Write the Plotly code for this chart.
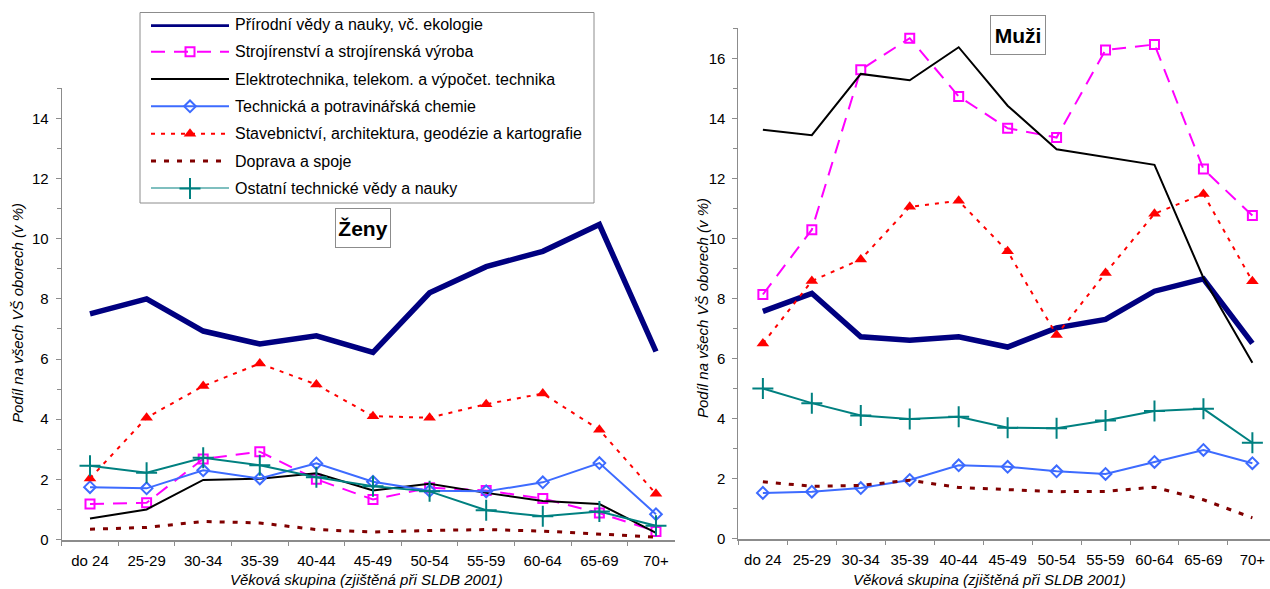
import plotly.graph_objects as go

# Age groups (categories on both x axes)
age_groups = ["do 24", "25-29", "30-34", "35-39", "40-44", "45-49",
              "50-54", "55-59", "60-64", "65-69", "70+"]

# Series names
series_names = [
    "Přírodní vědy a nauky, vč. ekologie",
    "Strojírenství a strojírenská výroba",
    "Elektrotechnika, telekom. a výpočet. technika",
    "Technická a potravinářská chemie",
    "Stavebnictví, architektura, geodézie a kartografie",
    "Doprava a spoje",
    "Ostatní technické vědy a nauky",
]

# Women (Ženy), share in % of all university fields
zeny_prirodni = [7.5, 8.0, 6.93, 6.5, 6.77, 6.22, 8.2, 9.07, 9.58, 10.47, 6.25]
zeny_strojir = [1.18, 1.22, 2.68, 2.92, 2.0, 1.33, 1.72, 1.63, 1.36, 0.88, 0.27]
zeny_elektro = [0.7, 1.0, 1.98, 2.02, 2.2, 1.63, 1.85, 1.55, 1.28, 1.18, 0.22]
zeny_chemie = [1.74, 1.7, 2.3, 2.03, 2.53, 1.92, 1.62, 1.6, 1.9, 2.54, 0.84]
zeny_stavebni = [2.03, 4.05, 5.1, 5.85, 5.15, 4.1, 4.05, 4.5, 4.85, 3.65, 1.52]
zeny_doprava = [0.34, 0.4, 0.6, 0.55, 0.33, 0.25, 0.3, 0.33, 0.28, 0.18, 0.08]
zeny_ostatni = [2.45, 2.22, 2.72, 2.47, 2.07, 1.77, 1.6, 0.97, 0.77, 0.93, 0.46]

# Men (Muži)
muzi_prirodni = [7.57, 8.17, 6.72, 6.61, 6.72, 6.38, 7.02, 7.3, 8.24, 8.65, 6.5]
muzi_strojir = [8.13, 10.29, 15.62, 16.67, 14.73, 13.67, 13.36, 16.28, 16.46, 12.31, 10.76]
muzi_elektro = [13.62, 13.44, 15.48, 15.27, 16.37, 14.42, 12.97, 12.7, 12.45, 8.68, 5.86]
muzi_chemie = [1.52, 1.56, 1.68, 1.95, 2.44, 2.39, 2.24, 2.15, 2.55, 2.95, 2.51]
muzi_stavebni = [6.5, 8.58, 9.3, 11.05, 11.25, 9.57, 6.78, 8.85, 10.82, 11.48, 8.57]
muzi_doprava = [1.89, 1.74, 1.77, 1.94, 1.7, 1.64, 1.56, 1.57, 1.71, 1.29, 0.69]
muzi_ostatni = [5.0, 4.51, 4.1, 3.98, 4.06, 3.69, 3.67, 3.93, 4.25, 4.32, 3.19]

zeny = [zeny_prirodni, zeny_strojir, zeny_elektro, zeny_chemie,
        zeny_stavebni, zeny_doprava, zeny_ostatni]
muzi = [muzi_prirodni, muzi_strojir, muzi_elektro, muzi_chemie,
        muzi_stavebni, muzi_doprava, muzi_ostatni]

W, H = 1270, 589
FONT = "Liberation Sans, Arial, sans-serif"
GRAY = "#8c8c8c"

# line / marker style of each series
styles = [
    dict(line=dict(color="#000080", width=5.5), mode="lines", marker=None),
    dict(line=dict(color="#ff00ff", width=2, dash="14px,9px"), mode="lines+markers",
         marker=dict(symbol="square-open", size=9, color="#ff00ff", line=dict(width=2))),
    dict(line=dict(color="#000000", width=2), mode="lines", marker=None),
    dict(line=dict(color="#3d6bff", width=2), mode="lines+markers",
         marker=dict(symbol="diamond-open", size=9, color="#3d6bff", line=dict(width=2))),
    dict(line=dict(color="#ff0000", width=2, dash="4px,6px"), mode="lines+markers",
         marker=dict(symbol="triangle-up", size=11, color="#ff0000")),
    dict(line=dict(color="#800000", width=3, dash="5px,8px"), mode="lines", marker=None),
    dict(line=dict(color="#008080", width=2), mode="lines+markers",
         marker=dict(symbol="cross-thin", size=15, color="#008080",
                     line=dict(width=2, color="#008080"))),
]

fig = go.Figure()


def add_series(values_list, xa, ya):
    for name, vals, st in zip(series_names, values_list, styles):
        kw = dict(x=age_groups, y=vals, name=name, mode=st["mode"], line=st["line"],
                  xaxis=xa, yaxis=ya, showlegend=False, cliponaxis=False)
        if st["marker"] is not None:
            kw["marker"] = st["marker"]
        fig.add_trace(go.Scatter(**kw))


add_series(zeny, "x", "y")
add_series(muzi, "x2", "y2")

# Legend keys drawn in their own small axes
for i, (name, st) in enumerate(zip(series_names, styles)):
    fig.add_trace(go.Scatter(x=[0, 1], y=[i, i], mode="lines", line=st["line"],
                             xaxis="x3", yaxis="y3", showlegend=False,
                             hoverinfo="skip", cliponaxis=False))
    if st["marker"] is not None:
        fig.add_trace(go.Scatter(x=[0.5], y=[i], mode="markers", marker=st["marker"],
                                 xaxis="x3", yaxis="y3", showlegend=False,
                                 hoverinfo="skip", cliponaxis=False))


def px_x(p):
    return p / W


def px_y(p):
    return 1 - p / H


tickfont = dict(family=FONT, size=15, color="#000000")


def x_axis(domain, rng, anchor):
    return dict(domain=domain, range=rng, anchor=anchor, type="category",
                showline=True, linecolor=GRAY, linewidth=1.5, ticks="outside",
                tickson="boundaries", ticklen=5, tickcolor=GRAY, showgrid=False,
                zeroline=False, tickfont=tickfont, automargin=False, fixedrange=True,
                ticklabelstandoff=7)


def y_axis(domain, rng, anchor):
    return dict(domain=domain, range=rng, anchor=anchor, dtick=2, tick0=0,
                showline=True, linecolor=GRAY, linewidth=1, ticks="outside",
                ticklen=5, tickcolor=GRAY, showgrid=False, zeroline=False,
                tickfont=tickfont, automargin=False, fixedrange=True,
                ticklabelstandoff=4,
                minor=dict(dtick=1, ticks="outside", ticklen=4, tickcolor=GRAY,
                           showgrid=False))


annotations = []
# axis titles
title_font = dict(family=FONT, size=15, color="#000000")
for cx in (366, 990):
    annotations.append(dict(text="<i>Věková skupina (zjištěná při SLDB 2001)</i>",
                            x=px_x(cx), y=px_y(579), xref="paper", yref="paper",
                            showarrow=False, font=title_font,
                            xanchor="center", yanchor="middle"))
for cx, cy in ((17, 313), (702, 308)):
    annotations.append(dict(text="<i>Podíl na všech VŠ oborech (v %)</i>",
                            x=px_x(cx), y=px_y(cy), xref="paper", yref="paper",
                            showarrow=False, font=title_font, textangle=-90,
                            xanchor="center", yanchor="middle"))

# panel labels
for txt, cx, cy in (("Ženy", 363, 228), ("Muži", 1018, 35)):
    annotations.append(dict(text="<b>%s</b>" % txt, x=px_x(cx), y=px_y(cy),
                            xref="paper", yref="paper", showarrow=False,
                            font=dict(family=FONT, size=21, color="#000000"),
                            bgcolor="#ffffff", bordercolor=GRAY, borderwidth=1,
                            width=50, height=34, borderpad=2,
                            xanchor="center", yanchor="middle"))

# legend labels
row0, row_step = 24.3, 27.35
for i, name in enumerate(series_names):
    annotations.append(dict(text=name, x=px_x(233), y=px_y(row0 + i * row_step),
                            xref="paper", yref="paper", showarrow=False,
                            font=dict(family=FONT, size=16, color="#000000"),
                            xanchor="left", yanchor="middle"))

shapes = [dict(type="rect", xref="paper", yref="paper",
               x0=px_x(140), x1=px_x(594), y0=px_y(203), y1=px_y(12.5),
               line=dict(color=GRAY, width=1), fillcolor="rgba(0,0,0,0)",
               layer="below")]

fig.update_layout(
    width=W, height=H,
    margin=dict(l=0, r=0, t=0, b=0),
    paper_bgcolor="#ffffff", plot_bgcolor="rgba(0,0,0,0)",
    font=dict(family=FONT),
    showlegend=False,
    xaxis=x_axis([px_x(61.7), px_x(675)], [-0.5, 10.336], "y"),
    yaxis=y_axis([px_y(539.5), px_y(88.3)], [0, 15], "x"),
    xaxis2=x_axis([px_x(738.4), 1.0], [-0.5, 10.36], "y2"),
    yaxis2=y_axis([px_y(538.5), px_y(28.3)], [0, 17], "x2"),
    xaxis3=dict(domain=[px_x(151), px_x(229)], range=[0, 1], anchor="y3",
                visible=False, fixedrange=True),
    yaxis3=dict(domain=[px_y(row0 + 6 * row_step), px_y(row0)], range=[6, 0],
                anchor="x3", visible=False, fixedrange=True),
    annotations=annotations,
    shapes=shapes,
)

fig.write_html("out.html")
